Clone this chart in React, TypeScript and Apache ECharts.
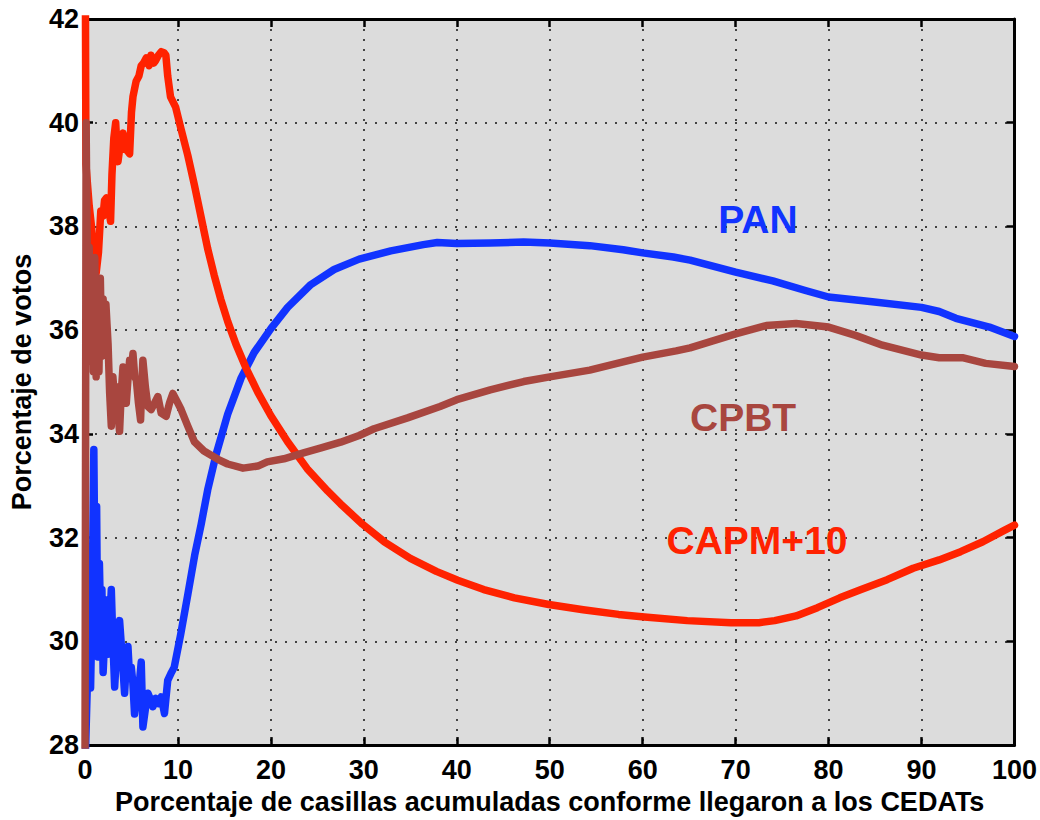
import React, { useEffect, useRef } from "react";
import * as echarts from "echarts";

const X_MIN = 0;
const X_MAX = 100;
const X_STEP = 10;
const Y_MIN = 28;
const Y_MAX = 42;
const Y_STEP = 2;

const X_TITLE = "Porcentaje de casillas acumuladas conforme llegaron a los CEDATs";
const Y_TITLE = "Porcentaje de votos";

const PAN: [number, number][] = [
  [0, 27.5], [0.3, 29.5], [0.5, 30.1], [0.6, 29.1], [0.75, 30.5], [0.95, 33.7], [1.08, 31.0], [1.25, 32.6],
  [1.38, 29.7], [1.55, 31.5], [1.7, 30.2], [1.82, 31.0], [1.95, 29.4], [2.15, 30.2], [2.3, 30.8], [2.48, 29.75],
  [2.65, 30.3], [2.83, 31.0], [3.0, 30.0], [3.19, 29.12], [3.4, 29.8], [3.72, 30.4], [4.0, 29.7], [4.26, 29.0],
  [4.45, 29.6], [4.62, 29.9], [4.8, 29.3], [4.98, 29.5], [5.15, 29.2], [5.33, 28.6], [5.6, 29.0], [5.85, 29.2],
  [6.05, 29.6], [6.23, 28.35], [6.5, 28.7], [6.77, 29.0], [7.0, 28.9], [7.3, 28.74], [7.6, 28.9], [7.9, 28.8],
  [8.2, 28.93], [8.55, 28.61], [8.9, 29.25], [9.3, 29.4], [9.6, 29.5], [10.3, 30.14], [11.06, 30.9], [11.8, 31.66],
  [12.5, 32.26], [13.2, 32.92], [14.1, 33.6], [15.35, 34.38], [16.8, 35.08], [18.2, 35.57], [20, 36.03],
  [21.8, 36.44], [24.3, 36.88], [26.8, 37.17], [29.5, 37.37], [32.9, 37.53], [36.4, 37.65], [37.9, 37.69],
  [40, 37.67], [43.6, 37.68], [47.2, 37.7], [50, 37.68], [54.3, 37.63], [57.9, 37.55], [60, 37.49], [63.3, 37.41],
  [65.1, 37.35], [70, 37.12], [74, 36.95], [77.6, 36.76], [80, 36.64], [84.7, 36.55], [90, 36.44], [91.9, 36.36],
  [93.7, 36.23], [97.3, 36.06], [100, 35.88],
];

const CPBT: [number, number][] = [
  [0, 27.5], [0.12, 40.0], [0.3, 36.2], [0.45, 37.6], [0.6, 35.4], [0.75, 37.2], [0.9, 35.2], [1.05, 37.4],
  [1.2, 35.1], [1.35, 36.9], [1.5, 35.2], [1.65, 37.0], [1.8, 35.5], [1.95, 36.6], [2.1, 35.6], [2.25, 36.5],
  [2.48, 35.74], [2.65, 34.8], [2.83, 34.15], [3.0, 35.1], [3.2, 34.6], [3.37, 34.91], [3.55, 34.4], [3.72, 34.05],
  [3.9, 34.8], [4.09, 35.29], [4.25, 34.8], [4.44, 34.59], [4.6, 35.0], [4.8, 35.42], [5.0, 35.2], [5.16, 35.55],
  [5.35, 35.1], [5.52, 35.04], [5.75, 34.6], [5.98, 34.27], [6.1, 34.9], [6.23, 35.42], [6.5, 34.9], [6.77, 34.53],
  [7.12, 34.47], [7.5, 34.6], [7.84, 34.72], [8.2, 34.4], [8.73, 34.34], [9.1, 34.6], [9.45, 34.78], [10, 34.59],
  [10.34, 34.47], [11.06, 34.15], [11.77, 33.85], [12.8, 33.67], [14.3, 33.51], [15.35, 33.42], [17, 33.34],
  [18.6, 33.38], [19.6, 33.46], [21.4, 33.52], [23.6, 33.64], [25.4, 33.73], [27.5, 33.84], [29.5, 33.97],
  [31.1, 34.1], [34.7, 34.31], [38.2, 34.53], [40, 34.66], [43.6, 34.85], [47.2, 35.01], [50, 35.1],
  [54.3, 35.23], [57.9, 35.39], [60, 35.48], [63.6, 35.6], [65.1, 35.66], [70, 35.93], [73.3, 36.09],
  [76.5, 36.13], [80, 36.06], [82.9, 35.9], [85.8, 35.71], [90, 35.52], [91.9, 35.47], [94.4, 35.47],
  [96.9, 35.36], [100, 35.3],
];

const CAPM: [number, number][] = [
  [0, 45], [0.1, 39.2], [0.45, 38.4], [0.7, 38.0], [0.95, 37.4], [1.2, 37.1], [1.45, 37.5], [1.7, 38.3],
  [1.94, 38.2], [2.1, 38.5], [2.3, 38.55], [2.5, 38.4], [2.75, 38.1], [2.9, 39.0], [3.1, 39.7], [3.3, 40.0],
  [3.45, 39.5], [3.55, 39.25], [3.8, 39.6], [4.09, 39.8], [4.3, 39.5], [4.6, 39.45], [4.8, 39.4], [5.0, 40.2],
  [5.16, 40.5], [5.5, 40.8], [5.8, 40.9], [6.05, 41.1], [6.3, 41.15], [6.6, 41.25], [6.9, 41.1], [7.1, 41.3],
  [7.4, 41.15], [7.6, 41.2], [7.9, 41.3], [8.2, 41.37], [8.5, 41.35], [8.7, 41.3], [8.9, 40.9], [9.2, 40.5],
  [9.75, 40.3], [10.3, 39.9], [11.06, 39.37], [11.77, 38.8], [12.49, 38.18], [13.2, 37.57], [13.9, 37.06],
  [14.6, 36.6], [15.35, 36.17], [16.24, 35.73], [17.3, 35.28], [18.6, 34.8], [20, 34.35], [21.8, 33.85],
  [23.9, 33.33], [26.1, 32.9], [27.5, 32.65], [29.85, 32.26], [32.2, 31.92], [35, 31.6], [37.8, 31.35],
  [40.1, 31.18], [42.9, 31.0], [46.2, 30.84], [49.9, 30.71], [53.6, 30.61], [57.4, 30.52], [60.2, 30.47],
  [64.8, 30.4], [69.5, 30.36], [72.5, 30.36], [74.2, 30.4], [76.5, 30.49], [78.8, 30.65], [81.2, 30.84], [83.5, 31.0],
  [86.3, 31.19], [89.1, 31.41], [91.9, 31.57], [94.2, 31.73], [96.6, 31.92], [98.9, 32.14], [100, 32.24],
];

const LABEL_TEXTS = ["PAN", "CPBT", "CAPM+10"];
const LABEL_X = [72.4, 70.8, 72.3];
const LABEL_Y = [38.14, 34.32, 31.95];

const BLUE = "#1133ff";
const BROWN = "#a8463f";
const RED = "#ff2200";
const LABEL_COLORS = [BLUE, BROWN, RED];

const FONT = "'Liberation Sans', Arial, Helvetica, sans-serif";

export default function App() {
  const ref = useRef<HTMLDivElement>(null);

  useEffect(() => {
    if (!ref.current) return;
    const chart = echarts.init(ref.current, undefined, { renderer: "svg" });

    const axisLine = { show: true, onZero: false, lineStyle: { color: "#000", width: 3 } };
    const tick = { show: true, inside: true, length: 8, lineStyle: { color: "#000", width: 2.5 } };
    const split = { show: true, lineStyle: { color: "#111", width: 1.5, type: [2, 8] as any } };
    const lbl = { color: "#000", fontSize: 27, fontWeight: "bold" as const, fontFamily: FONT };

    const line = (name: string, data: [number, number][], color: string, z: number) => ({
      name,
      type: "line" as const,
      data,
      showSymbol: false,
      symbol: "none",
      clip: true,
      z,
      lineStyle: { color, width: 7.5, cap: "round" as const, join: "round" as const },
      itemStyle: { color },
    });

    chart.setOption({
      animation: false,
      grid: {
        left: 84,
        top: 19,
        width: 932,
        height: 733,
        show: true,
        backgroundColor: "#dcdcdc",
        borderWidth: 0,
      },
      xAxis: [
        {
          type: "value",
          min: X_MIN,
          max: X_MAX,
          interval: X_STEP,
          position: "bottom",
          axisLine,
          axisTick: tick,
          axisLabel: { ...lbl, margin: 11 },
          splitLine: split,
          name: X_TITLE,
          nameLocation: "middle",
          nameGap: 40,
          nameTextStyle: { ...lbl, fontSize: 27, verticalAlign: "top" },
        },
        {
          type: "value",
          min: X_MIN,
          max: X_MAX,
          interval: X_STEP,
          position: "top",
          axisLine,
          axisTick: tick,
          axisLabel: { show: false },
          splitLine: { show: false },
        },
      ],
      yAxis: [
        {
          type: "value",
          min: Y_MIN,
          max: Y_MAX,
          interval: Y_STEP,
          position: "left",
          axisLine,
          axisTick: tick,
          axisLabel: { ...lbl, margin: 6 },
          splitLine: split,
          name: Y_TITLE,
          nameLocation: "middle",
          nameGap: 50,
          nameRotate: 90,
          nameTextStyle: { ...lbl, fontSize: 27 },
        },
        {
          type: "value",
          min: Y_MIN,
          max: Y_MAX,
          interval: Y_STEP,
          position: "right",
          axisLine,
          axisTick: tick,
          axisLabel: { show: false },
          splitLine: { show: false },
        },
      ],
      series: [
        line("PAN", PAN, BLUE, 2),
        line("CAPM+10", CAPM, RED, 3),
        line("CPBT", CPBT, BROWN, 4),
      ],
    });

    const graphic = LABEL_TEXTS.map((t, i) => {
      const p = chart.convertToPixel({ xAxisIndex: 0, yAxisIndex: 0 }, [LABEL_X[i], LABEL_Y[i]]) as number[];
      return {
        type: "text",
        x: p[0],
        y: p[1],
        z: 100,
        style: {
          text: t,
          fill: LABEL_COLORS[i],
          fontSize: 39,
          fontWeight: "bold",
          fontFamily: FONT,
          align: "center",
          verticalAlign: "middle",
        },
      };
    });
    chart.setOption({ graphic });

    return () => chart.dispose();
  }, []);

  return (
    <div
      ref={ref}
      style={{ position: "fixed", left: 0, top: 0, width: 1040, height: 820, background: "#fff" }}
    />
  );
}
